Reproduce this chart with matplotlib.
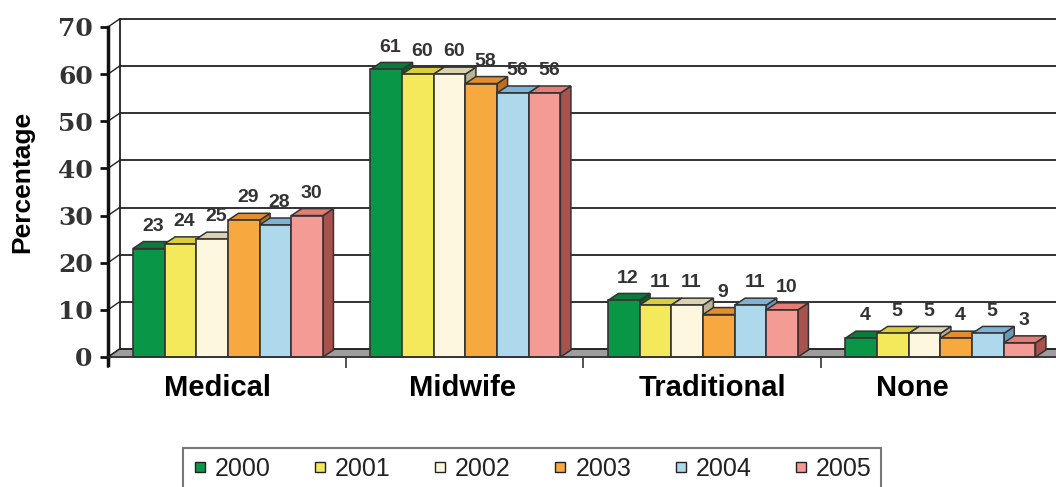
import matplotlib
matplotlib.use('Agg')
import matplotlib.pyplot as plt
from matplotlib.patches import Polygon, Rectangle
from matplotlib.lines import Line2D
from matplotlib.font_manager import FontProperties

categories = ['Medical', 'Midwife', 'Traditional', 'None']
label_pos = [0.463, 1.491, 2.547, 3.385]
years = ['2000', '2001', '2002', '2003', '2004', '2005']
v2000 = [23, 61, 12, 4]
v2001 = [24, 60, 11, 5]
v2002 = [25, 60, 11, 5]
v2003 = [29, 58, 9, 4]
v2004 = [28, 56, 11, 5]
v2005 = [30, 56, 10, 3]
series = [v2000, v2001, v2002, v2003, v2004, v2005]

front_colors = ['#0a9647', '#f3e95a', '#fcf7de', '#f7a940', '#aed8ec', '#f59b95']
top_colors = ['#0b7a3b', '#dccd3c', '#d9d3b2', '#e38d2b', '#7fb3d6', '#e47d76']
side_colors = ['#076030', '#b8ab30', '#b9b394', '#b86f20', '#6a98b8', '#a8524e']

W, H = 1056, 487
fig = plt.figure(figsize=(W / 100, H / 100), dpi=100)
ax = fig.add_axes([108 / W, 130 / H, 950 / W, 330 / H])
ax.set_xlim(0, 4)
ax.set_ylim(0, 70)
ax.patch.set_visible(False)

px_x = 4 / 950
px_y = 70 / 330
dxw, dyw = 11.5 * px_x, 8 * px_y   # wall depth
dxb, dyb = 10.5 * px_x, 7 * px_y   # bar depth
xr = 4.3

# floor
ax.add_patch(Polygon([(0, 0), (xr, 0), (xr + dxw, dyw), (dxw, dyw)], closed=True,
                     facecolor='#9d9d9d', edgecolor='#444444', lw=1.0, zorder=0.5, clip_on=False))
# back wall grid
yt = list(range(0, 71, 10))
for k in yt:
    ax.plot([dxw, xr], [k + dyw, k + dyw], color='#222222', lw=1.3, zorder=1, clip_on=False)
    ax.plot([0, dxw], [k, k + dyw], color='#222222', lw=1.0, zorder=1, clip_on=False)
ax.plot([dxw, dxw], [dyw, 70 + dyw], color='#222222', lw=1.3, zorder=1, clip_on=False)

# bars
n = len(series)
w = 0.8 / n
z = 2
for i in range(len(categories)):
    for j in range(n):
        v = series[j][i]
        x0 = i + 0.105 + j * w
        ax.add_patch(Polygon([(x0 + w, 0), (x0 + w + dxb, dyb), (x0 + w + dxb, v + dyb), (x0 + w, v)],
                             closed=True, facecolor=side_colors[j], edgecolor='#333333', lw=1.1,
                             zorder=z, clip_on=False))
        ax.add_patch(Polygon([(x0, v), (x0 + w, v), (x0 + w + dxb, v + dyb), (x0 + dxb, v + dyb)],
                             closed=True, facecolor=top_colors[j], edgecolor='#333333', lw=1.1,
                             zorder=z + 1, clip_on=False))
        ax.add_patch(Rectangle((x0, 0), w, v, facecolor=front_colors[j], edgecolor='#333333',
                               lw=1.2, zorder=z + 2, clip_on=False))
        ax.text(x0 + w / 2 + dxb * 0.4, v + 3.8, str(v), ha='center', va='baseline',
                fontsize=14, fontweight='bold', color='#333333',
                family='Liberation Sans', zorder=50)
        z += 3

# axes styling
for s in ['top', 'right']:
    ax.spines[s].set_visible(False)
ax.spines['left'].set_linewidth(2.5)
ax.spines['left'].set_color('#111111')
ax.spines['bottom'].set_linewidth(1.2)
ax.spines['bottom'].set_color('#333333')
ax.spines['bottom'].set_zorder(1000)
ax.set_yticks(yt)
ax.tick_params(axis='y', direction='out', length=6, width=2, color='#111111', pad=5,
               labelsize=18, labelcolor='#333333')
for lab in ax.get_yticklabels():
    lab.set_fontfamily('DejaVu Serif')
    lab.set_fontweight('bold')
ax.set_xticks([0, 1, 2, 3, 4])
ax.set_xticklabels([])
ax.tick_params(axis='x', which='major', direction='out', length=8, width=1.2, color='#333333')
ax.set_xticks(label_pos, minor=True)
ax.set_xticklabels(categories, minor=True, fontsize=21, fontweight='bold',
                   family='Liberation Sans', color='black')
ax.tick_params(axis='x', which='minor', length=0, pad=12.6)
ax.plot([0, 0], [0, -8 * px_y], color='#111111', lw=2.5, clip_on=False, zorder=1000)

fig.text(22 / W, 1 - 182 / H, 'Percentage', rotation=90, ha='center', va='center',
         fontsize=19, fontweight='bold', family='Liberation Sans', color='black')

handles = [Line2D([], [], marker='s', ls='none', markersize=7, markerfacecolor=c,
                  markeredgecolor='#222222', markeredgewidth=1.0) for c in front_colors]
leg = fig.legend(handles, years, loc='upper center', bbox_to_anchor=(532 / W, 1 - 448 / H),
                 ncol=6, frameon=True, fancybox=False, edgecolor='#555555',
                 prop=FontProperties(family='Liberation Sans', size=18),
                 handlelength=0.6, handletextpad=0.3, columnspacing=1.68, borderpad=0.35,
                 borderaxespad=0, labelcolor='#222222')
leg.get_frame().set_linewidth(1.5)

fig.savefig('out.png', dpi=100)
